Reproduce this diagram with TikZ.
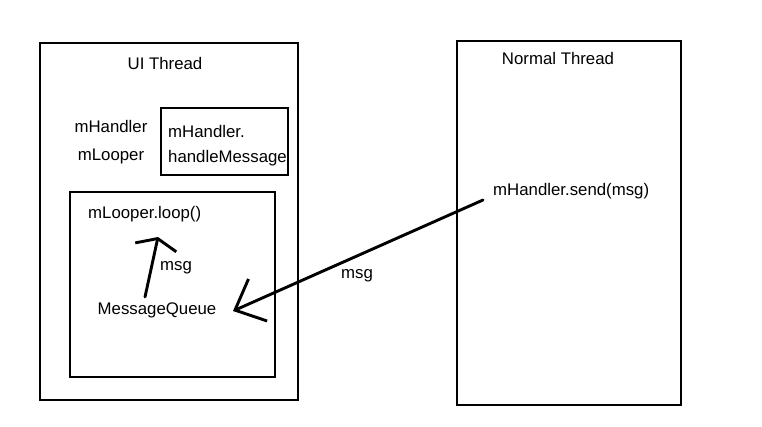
\documentclass[tikz,border=0pt]{standalone}
\usepackage{fontspec}
\setmainfont{Liberation Sans}
\usetikzlibrary{arrows.meta, positioning}

\tikzset{
  box/.style={draw=black, line width=2.9pt},
  txt/.style={inner sep=0pt, font=\fontsize{16.8}{19}\selectfont},
  pen/.style={line width=2.9pt, line cap=round, line join=round},
}

\begin{document}
\begin{tikzpicture}[x=1pt, y=-1pt]
\useasboundingbox[fill=white] (0,0) rectangle (762,426);

% UI thread side
\draw[box] (40,43) rectangle (298,400);
\node[txt] (uititle) at (165,63) {UI Thread};
\node[txt] (handler) at (111,126) {mHandler};
\node[txt] (looper) at (111,156) {mLooper};
\draw[box] (161,108) rectangle (288,175);
\node[txt, anchor=west] (handle1) at (168,131) {mHandler.};
\node[txt, anchor=west] (handle2) at (168,158) {handleMessage};

\draw[box] (70,192) rectangle (275,377);
\node[txt, anchor=west] (loop) at (88,214) {mLooper.loop()};
\node[txt] (queue) at (157,310) {MessageQueue};
\node[txt] (innermsg) at (176,268) {msg};

% normal thread side
\draw[box] (457,41) rectangle (681,405);
\node[txt] (normtitle) at (558,58) {Normal Thread};
\node[txt, anchor=west] (send) at (493,191) {mHandler.send(msg)};
\node[txt] (outermsg) at (357,276) {msg};

% arrows
\coordinate (uptail) at (145,297);
\coordinate (uptip) at (158,237);
\coordinate (sendtail) at (483,200);
\coordinate (sendtip) at (233,311);
\draw[pen, -{Straight Barb[length=9pt, width=42pt, line width=2.9pt]}] (uptail) -- (uptip);
\draw[pen, -{Straight Barb[length=25pt, width=46pt, line width=2.9pt]}] (sendtail) -- (sendtip);
\end{tikzpicture}
\end{document}
